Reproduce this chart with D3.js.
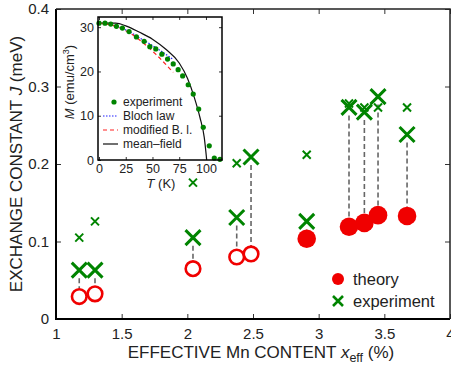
<!DOCTYPE html>
<html>
<head>
<meta charset="utf-8">
<script src="https://cdn.jsdelivr.net/npm/d3@7"></script>
<style>
  body { margin: 0; background: #fff; }
  text { font-family: "Liberation Sans", Arial, Helvetica, sans-serif; fill: #222; }
</style>
</head>
<body>
<svg width="451" height="370"></svg>
<script>
// main panel: exchange constant vs effective Mn content
var xeff = [1.177, 1.297, 2.043, 2.376, 2.485, 2.909, 3.231, 3.348, 3.452, 3.673];
var jTheory = [0.029, 0.0325, 0.065, 0.080, 0.084, 0.1035, 0.119, 0.124, 0.134, 0.133];
var theoryFilled = [false, false, false, false, false, true, true, true, true, true];
var jExp = [0.063, 0.063, 0.105, 0.131, 0.209, 0.126, 0.273, 0.267, 0.287, 0.238];
var xSmall = [1.177, 1.297, 2.043, 2.376, 2.909, 3.231, 3.348, 3.452, 3.673];
var jSmall = [0.105, 0.126, 0.176, 0.201, 0.212, 0.278, 0.273, 0.273, 0.273];
var xTicks = [1, 1.5, 2, 2.5, 3, 3.5, 4];
var yTicks = [0, 0.1, 0.2, 0.3, 0.4];

// inset: magnetization vs temperature
var tExp = [0, 5.6, 11, 16.3, 21.9, 28.1, 35, 42.2, 47.5, 53.1, 58.8, 64.1, 69.4, 74, 78.2, 83.4, 88.1, 93.2, 97.5, 103.1, 107.8, 113.1];
var mExp = [30.9, 30.9, 30.7, 30.2, 29.8, 29.0, 27.8, 26.8, 25.6, 25.1, 23.9, 22.8, 21.7, 20.4, 19.0, 17.0, 14.9, 11.5, 7.4, 3.2, 0.45, 0.15];
var tBloch = [0, 15.6, 28, 40.6, 53, 68.8];
var mBloch = [30.9, 30.3, 29.0, 27.2, 25.4, 22.8];
var tMod = [0, 15.6, 28, 40.6, 53, 69.4];
var mMod = [30.9, 30.2, 28.8, 26.6, 23.9, 19.8];
var tMF = [0, 15.6, 25, 37.5, 50, 62.5, 75, 82.8, 89, 94.4, 98.4, 100.7];
var mMF = [30.9, 30.9, 30.3, 28.9, 27.3, 25.0, 21.9, 18.4, 14.2, 9.6, 5.1, 0];
var tTicks = [0, 25, 50, 75, 100];
var mTicks = [0, 10, 20, 30];

var green = "#008400", red = "#f00000";
var svg = d3.select("svg");

var x = d3.scaleLinear().domain([1, 4]).range([56, 450]);
var y = d3.scaleLinear().domain([0, 0.4]).range([319, 9]);

var g = svg.append("g");

// ticks inside, all four sides
g.append("g").attr("transform", "translate(0,319)")
    .call(d3.axisBottom(x).tickValues(xTicks).tickSize(-5).tickPadding(9).tickFormat(d3.format("")));
g.append("g").attr("transform", "translate(0,9)")
    .call(d3.axisTop(x).tickValues(xTicks).tickSize(-5).tickFormat(""));
g.append("g").attr("transform", "translate(56,0)")
    .call(d3.axisLeft(y).tickValues(yTicks).tickSize(-5).tickPadding(7).tickFormat(d3.format("")));
g.append("g").attr("transform", "translate(450,0)")
    .call(d3.axisRight(y).tickValues(yTicks).tickSize(-5).tickFormat(""));
g.selectAll(".domain").remove();
g.selectAll(".tick line").attr("stroke", "#333").attr("stroke-width", 1);
g.selectAll(".tick text").style("font-size", "15px").attr("fill", "#222")
    .style("font-family", "'Liberation Sans', Arial, sans-serif");

// frame
g.append("path")
    .attr("d", "M56,9V319H450")
    .attr("fill", "none").attr("stroke", "#000").attr("stroke-width", 2);
g.append("path")
    .attr("d", "M56,9H450V319")
    .attr("fill", "none").attr("stroke", "#222").attr("stroke-width", 1.5);

// dashed connectors
xeff.forEach(function(v, i) {
    var y1 = y(jExp[i]) + 8, y2 = y(jTheory[i]) - (theoryFilled[i] ? 9 : 8);
    if (y2 > y1) {
        g.append("line")
            .attr("x1", x(v)).attr("x2", x(v)).attr("y1", y1).attr("y2", y2)
            .attr("stroke", "#666").attr("stroke-width", 1.6).attr("stroke-dasharray", "5,3");
    }
});

function cross(sel, cx, cy, s, w) {
    sel.append("path")
        .attr("d", "M" + (cx - s) + "," + (cy - s) + "L" + (cx + s) + "," + (cy + s) +
            "M" + (cx - s) + "," + (cy + s) + "L" + (cx + s) + "," + (cy - s))
        .attr("stroke", green).attr("stroke-width", w).attr("fill", "none");
}

xSmall.forEach(function(v, i) { cross(g, x(v), y(jSmall[i]), 4, 2); });
xeff.forEach(function(v, i) { cross(g, x(v), y(jExp[i]), 7.5, 3); });

xeff.forEach(function(v, i) {
    if (theoryFilled[i]) {
        g.append("circle").attr("cx", x(v)).attr("cy", y(jTheory[i])).attr("r", 9.3).attr("fill", red);
    } else {
        g.append("circle").attr("cx", x(v)).attr("cy", y(jTheory[i])).attr("r", 7.3)
            .attr("fill", "none").attr("stroke", red).attr("stroke-width", 2.6);
    }
});

// legend
var lg = svg.append("g");
lg.append("circle").attr("cx", 338).attr("cy", 279).attr("r", 6).attr("fill", red);
cross(lg, 338, 301, 5, 2.6);
lg.append("text").attr("x", 353).attr("y", 285).style("font-size", "16.5px").text("theory");
lg.append("text").attr("x", 353).attr("y", 307).style("font-size", "16.5px").text("experiment");

// axis titles
var xt = svg.append("text").attr("x", 261).attr("y", 358).attr("text-anchor", "middle").style("font-size", "17px");
xt.append("tspan").text("EFFECTIVE Mn CONTENT ");
xt.append("tspan").style("font-style", "italic").text("x");
xt.append("tspan").attr("dy", 4).style("font-size", "12.5px").text("eff");
xt.append("tspan").attr("dy", -4).text(" (%)");

var yt = svg.append("text").attr("transform", "translate(22,164) rotate(-90)")
    .attr("text-anchor", "middle").style("font-size", "17px");
yt.append("tspan").text("EXCHANGE CONSTANT ");
yt.append("tspan").style("font-style", "italic").text("J");
yt.append("tspan").text(" (meV)");

// ---- inset ----
var ix = d3.scaleLinear().domain([0, 115]).range([99, 222]);
var iy = d3.scaleLinear().domain([0, 32.3]).range([160, 17]);
var ins = svg.append("g");
ins.append("rect").attr("x", 98).attr("y", 17).attr("width", 124).attr("height", 143).attr("fill", "#fff");

ins.append("g").attr("transform", "translate(0,160)")
    .call(d3.axisBottom(ix).tickValues(tTicks).tickSize(-3).tickPadding(4));
ins.append("g").attr("transform", "translate(0,17)")
    .call(d3.axisTop(ix).tickValues(tTicks).tickSize(-3).tickFormat(""));
ins.append("g").attr("transform", "translate(98,0)")
    .call(d3.axisLeft(iy).tickValues(mTicks).tickSize(-3).tickPadding(4));
ins.append("g").attr("transform", "translate(222,0)")
    .call(d3.axisRight(iy).tickValues(mTicks).tickSize(-3).tickFormat(""));
ins.selectAll(".domain").remove();
ins.selectAll(".tick line").attr("stroke", "#333");
ins.selectAll(".tick text").style("font-size", "12.5px").attr("fill", "#222")
    .style("font-family", "'Liberation Sans', Arial, sans-serif");

var line = d3.line().x(function(d) { return ix(d[0]); }).y(function(d) { return iy(d[1]); });

ins.append("path").datum(d3.zip(tMF, mMF)).attr("d", line.curve(d3.curveMonotoneX))
    .attr("fill", "none").attr("stroke", "#111").attr("stroke-width", 1.2);
ins.append("path").datum(d3.zip(tBloch, mBloch)).attr("d", line)
    .attr("fill", "none").attr("stroke", "#2020ff").attr("stroke-width", 1.2).attr("stroke-dasharray", "1.5,1.5");
ins.append("path").datum(d3.zip(tMod, mMod)).attr("d", line)
    .attr("fill", "none").attr("stroke", "#ff2020").attr("stroke-width", 1.2).attr("stroke-dasharray", "4,3");

tExp.forEach(function(t, i) {
    ins.append("circle").attr("cx", ix(t)).attr("cy", iy(mExp[i])).attr("r", 2.6).attr("fill", green);
});

ins.append("rect").attr("x", 98).attr("y", 17).attr("width", 124).attr("height", 143)
    .attr("fill", "none").attr("stroke", "#000").attr("stroke-width", 1.5);

// inset legend
var il = ins.append("g");
var rows = [
    {label: "experiment", y: 102},
    {label: "Bloch law", y: 116, stroke: "#2020ff", dash: "1.5,1.5"},
    {label: "modified B. l.", y: 130, stroke: "#ff2020", dash: "4,3"},
    {label: "mean\u2013field", y: 144, stroke: "#111", dash: null}
];
rows.forEach(function(r) {
    if (r.stroke) {
        il.append("line").attr("x1", 103).attr("x2", 118).attr("y1", r.y).attr("y2", r.y)
            .attr("stroke", r.stroke).attr("stroke-width", 1.2).attr("stroke-dasharray", r.dash);
    } else {
        il.append("circle").attr("cx", 114).attr("cy", r.y).attr("r", 2.6).attr("fill", green);
    }
    il.append("text").attr("x", 123).attr("y", r.y + 4).style("font-size", "12px").text(r.label);
});

var it = svg.append("text").attr("x", 161).attr("y", 188).attr("text-anchor", "middle").style("font-size", "13px");
it.append("tspan").style("font-style", "italic").text("T");
it.append("tspan").text(" (K)");

var im = svg.append("text").attr("transform", "translate(74,82) rotate(-90)")
    .attr("text-anchor", "middle").style("font-size", "13px");
im.append("tspan").style("font-style", "italic").text("M");
im.append("tspan").text(" (emu/cm");
im.append("tspan").attr("dy", -5).style("font-size", "9px").text("3");
im.append("tspan").attr("dy", 5).text(")");
</script>
</body>
</html>
